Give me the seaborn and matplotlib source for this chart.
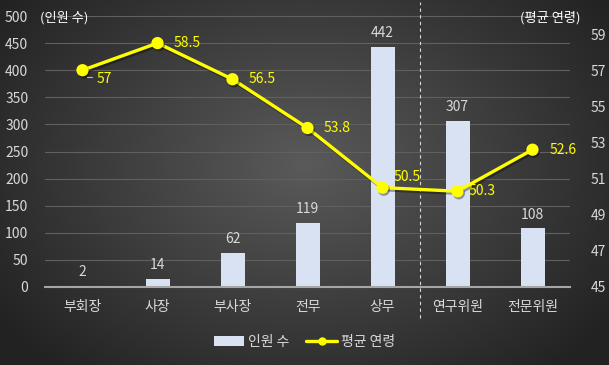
import matplotlib
matplotlib.use("Agg")
import matplotlib.pyplot as plt
import matplotlib.patheffects as pe
from matplotlib.lines import Line2D
from matplotlib.patches import Patch
import seaborn as sns
import numpy as np
import pandas as pd

# data
positions = ['부회장', '사장', '부사장', '전무', '상무', '연구위원', '전문위원']
headcount = [2, 14, 62, 119, 442, 307, 108]
avg_age = [57, 58.5, 56.5, 53.8, 50.5, 50.3, 52.6]
left_ticks = list(range(0, 501, 50))
right_ticks = list(range(45, 60, 2))

df = pd.DataFrame({'position': positions, 'count': headcount, 'age': avg_age})

sns.set_theme(style='white')
plt.rcParams['font.family'] = ['Noto Sans CJK KR', 'DejaVu Sans']

TXT = '#d9d9d9'
BAR = '#d9e2f3'
YEL = '#ffff00'

W, H = 609, 365
fig = plt.figure(figsize=(W / 100, H / 100), dpi=100)

# radial gradient background
bg = fig.add_axes([0, 0, 1, 1], zorder=-10)
yy, xx = np.mgrid[0:H, 0:W]
r = np.sqrt(((xx - W * 0.5) / (W * 0.62)) ** 2 + ((yy - H * 0.45) / (H * 0.75)) ** 2)
r = np.clip(r, 0, 1)
inner, outer = np.array([0x5a, 0x5a, 0x5a]) / 255, np.array([0x22, 0x22, 0x22]) / 255
img = inner[None, None, :] * (1 - r[..., None]) + outer[None, None, :] * r[..., None]
bg.imshow(img, aspect='auto', extent=[0, 1, 0, 1])
bg.axis('off')

ax = fig.add_axes([45 / W, (H - 287) / H, 525 / W, 271 / H])
ax.set_facecolor('none')

sns.barplot(data=df, x='position', y='count', color=BAR, width=0.32,
            saturation=1, linewidth=0, edgecolor='none', ax=ax, zorder=2)
ax.bar_label(ax.containers[0], labels=[str(v) for v in headcount],
             padding=5, color=TXT, fontsize=10)

ax.set_ylim(0, 500)
ax.set_yticks(left_ticks)
ax.set_xlim(-0.5, 6.5)
ax.yaxis.grid(True, color='#606060', linewidth=0.8)
ax.set_axisbelow(True)
for s in ['top', 'right', 'left']:
    ax.spines[s].set_visible(False)
ax.spines['bottom'].set_color('#a6a6a6')
ax.spines['bottom'].set_linewidth(1.5)
ax.tick_params(axis='both', length=0, colors=TXT, labelsize=10)
ax.tick_params(axis='y', pad=12)
ax.tick_params(axis='x', pad=9)
ax.set_xlabel('')
ax.set_ylabel('')

# dashed separator between 상무 and 연구위원
ax.plot([4.5, 4.5], [-58, 525], color='#d9d9d9', linewidth=0.8,
        linestyle=(0, (3, 3)), clip_on=False, zorder=3)

ax2 = ax.twinx()
ax2.set_facecolor('none')
sns.pointplot(data=df, x='position', y='age', color=YEL, markers='o',
              linewidth=2.4, markersize=7, ax=ax2, zorder=4)
for ln in ax2.lines:
    ln.set_path_effects([pe.SimpleLineShadow(offset=(1, -1.5), shadow_color='black', alpha=0.35),
                         pe.Normal()])
ax2.set_ylim(45, 60)
ax2.set_yticks(right_ticks)
ax2.set_xlim(-0.5, 6.5)
for s in ax2.spines.values():
    s.set_visible(False)
ax2.tick_params(axis='y', length=0, colors=TXT, labelsize=10, pad=15)
ax2.set_ylabel('')
ax2.set_xlabel('')
ax2.grid(False)

offsets = [(10, -6), (11.5, 0), (11.5, 0), (11.5, 0), (8, 8), (8, 0), (12, 0)]
for i, (v, off) in enumerate(zip(avg_age, offsets)):
    ax2.annotate(f'{v:g}', (i, v), xytext=off, textcoords='offset points',
                 color=YEL, fontsize=10, va='center', ha='left', zorder=5)
# small leader line for the first label
ax2.plot([0.06, 0.13], [57 - 0.38, 57 - 0.38], color='#bfbfbf', lw=0.8, zorder=6)

fig.text(40 / W, 1 - 18 / H, '(인원 수)', color='white', fontsize=9.5, va='center', ha='left')
fig.text(581 / W, 1 - 18 / H, '(평균 연령)', color='white', fontsize=9.5, va='center', ha='right')

handles = [Patch(facecolor=BAR, edgecolor='none'),
           Line2D([0], [0], color=YEL, linewidth=2.4, marker='o', markersize=5)]
leg = fig.legend(handles, ['인원 수', '평균 연령'], loc='center', ncol=2,
                 bbox_to_anchor=(0.5, 1 - 342 / H), frameon=False, fontsize=10,
                 handlelength=2.2, columnspacing=1.2, handletextpad=0.3)
for t in leg.get_texts():
    t.set_color(TXT)

fig.savefig('out.png', dpi=100)
